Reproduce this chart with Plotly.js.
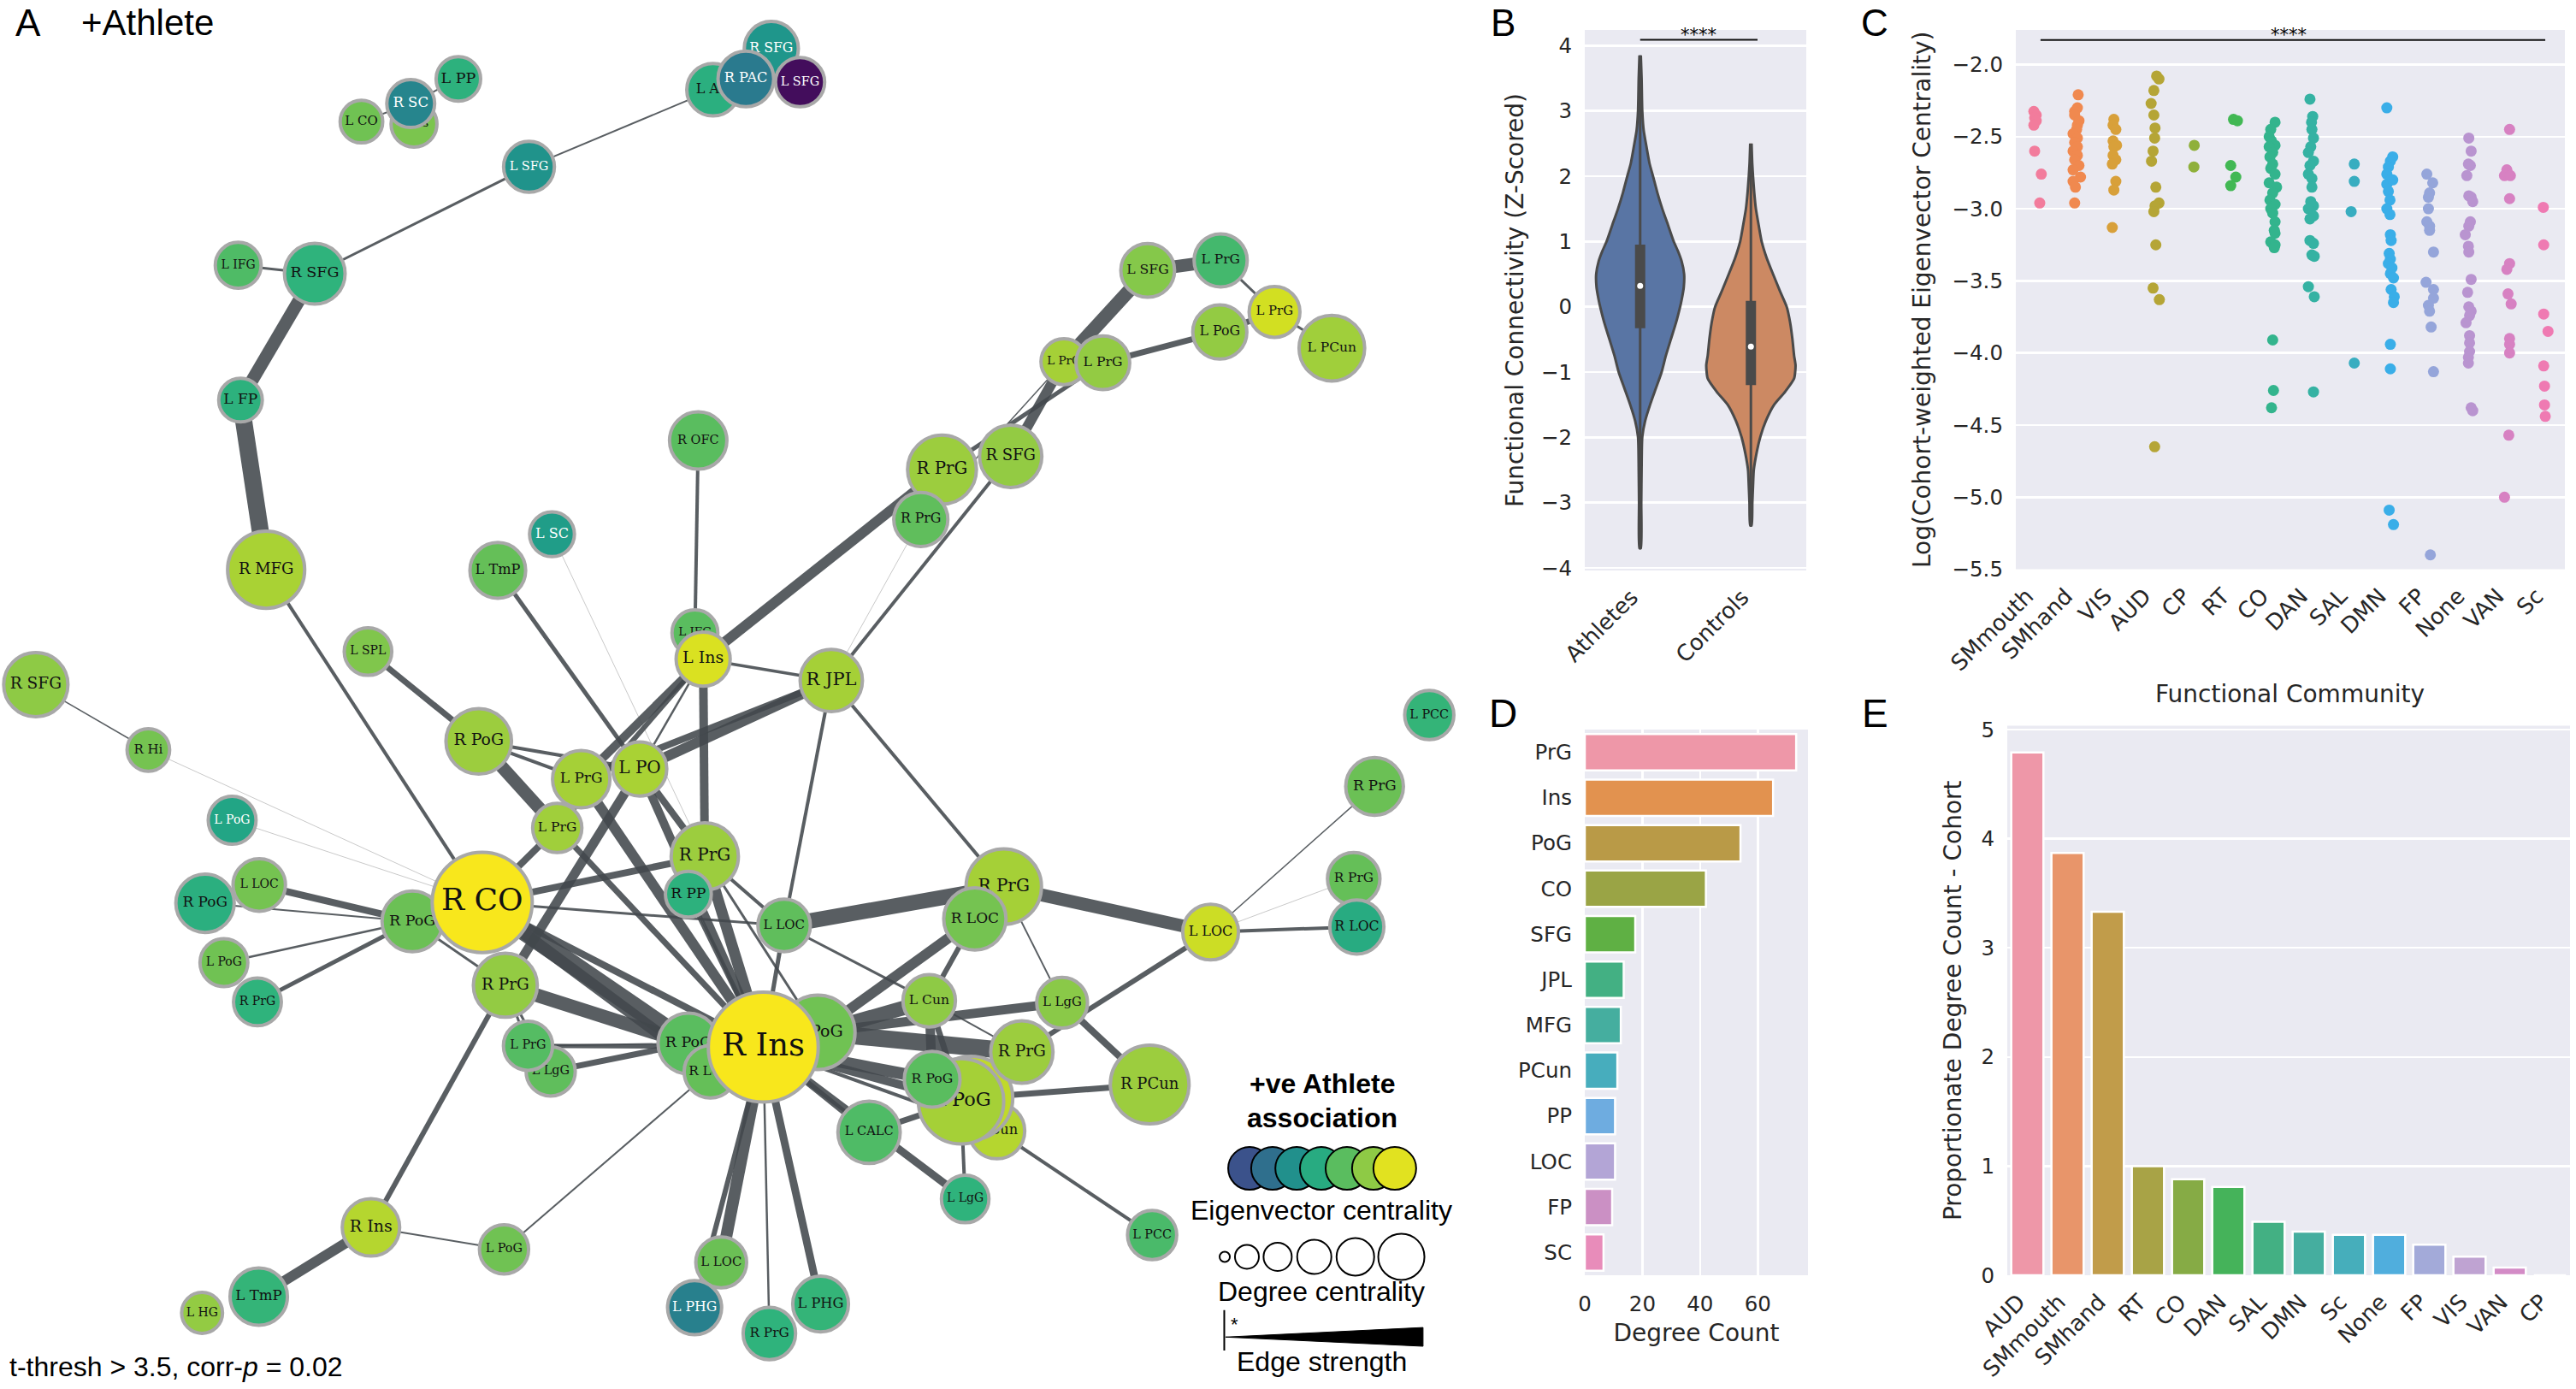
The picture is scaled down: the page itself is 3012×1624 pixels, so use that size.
<!DOCTYPE html>
<html><head><meta charset="utf-8">
<script src="https://cdn.plot.ly/plotly-3.0.1.min.js"></script>
<style>html,body{margin:0;padding:0;background:#fff}</style></head>
<body><div id="chart" style="width:3012px;height:1624px"></div>
<script>
// ---------- Panel A: network ----------
const nodeIds = ['LCO','LInsT','LPP','RSCt','LAG','RSFGt','LSFGd','RPAC','LSFGm','RSFGa','LIFG','LFP','RMFG','ROFC','LSC','LTmPa',
 'LSFGb','LPrGc','LPoGc','LPrGy','LPCun','LPrF','LPrGg','RPrGb','RSFGb','RPrGc','RSFGl','RHi','LPoGt','RPoGd','LLOCa','LPoGa','RPrGa',
 'RPoGm','RPrGm','RCO','LLgGa','LPrGa','LSPL','RPoGu','LPrGu','LPO','LPrGl','RInsS','LPoGb','LTmPb','LHG','RPrGr1','RPrGr2','RLOCr','LLOCr',
 'RPrGbig','RLOCm','RPrGn','RPP','LLOCm','LCun','LLgGb','PoGback','RPoGn','RLhid','RIns','CunB','PoGhid','RPrGq','PoGbig','RPoGs','LCALC','RPCun','LLgGc','LPCCa',
 'LLOCb','LPHGa','RPrGd','LPHGb','LPCCb','RJPL','LIFGh','LIns'];
const nodeLabels = ['L CO','L Ins','L PP','R SC','L AG','R SFG','L SFG','R PAC','L SFG','R SFG','L IFG','L FP','R MFG','R OFC','L SC','L TmP',
 'L SFG','L PrG','L PoG','L PrG','L PCun','L PrG','L PrG','R PrG','R SFG','R PrG','R SFG','R Hi','L PoG','R PoG','L LOC','L PoG','R PrG',
 'R PoG','R PrG','R CO','L LgG','L PrG','L SPL','R PoG','L PrG','L PO','L PrG','R Ins','L PoG','L TmP','L HG','R PrG','R PrG','R LOC','L LOC',
 'R PrG','R LOC','R PrG','R PP','L LOC','L Cun','L LgG','R PoG','R PoG','R LOC','R Ins','L Cun','','R PrG','R PoG','R PoG','L CALC','R PCun','L LgG','L PCC',
 'L LOC','L PHG','R PrG','L PHG','L PCC','R JPL','L IFG','L Ins'];
const nodeX = [220,252,279,250,434,469.5,487,454,322,191.6,145,146.4,162,425,336,303,
 698.6,743,742.5,775.8,810.7,647.6,671.3,573.4,615.2,560.5,21.8,90.3,141.3,124.8,157.8,136.3,156.7,
 251,307.6,293.5,335.2,321.4,224,291.4,353.8,389.4,339.2,225.8,306.8,157.5,123,836.7,824,825.9,736.9,
 611,593.4,429,419,477.3,565.6,646.5,497.8,419,432.4,464.6,606.8,591,622,585,567.4,529,699.8,587.5,701.3,
 439,422.8,468.3,499.5,870,506,423,428];
const nodeY = [74,75.5,48,63,54.6,29.5,50,48,101.5,166.5,161.4,243.4,346.6,268,325,347,
 164.5,158.4,202,189.8,211.8,220,220.7,285.7,277.6,316,416.5,456.2,499,549.5,538.4,585.6,609.5,
 560.5,599.4,549,651.8,636.2,396.4,451,474,467.8,503.7,746.7,760,788.8,798.7,478.4,534.6,563.9,567,
 539.4,559,521,544,563,608.8,610,628,634.8,652,637,688,668,640,670,656.6,688.8,659.8,729.4,751.3,
 768,795.5,811.2,793.3,435,414,385,401];
const nodeR = [14,15,14.6,15.6,17,17.5,16,18,16.5,19.5,15,14.3,24.5,18.5,14.7,18,
 17.4,17.2,17.5,16.5,21,15,17.4,22,20,17.5,20.6,14,15.6,18.8,17,15.6,15.6,
 19.5,20.5,31.5,16,16,15.5,21,18.5,17.5,16,18.5,16,18.5,13.5,18.6,17,17.5,18,
 24,20,21.5,15,17,17,16.5,23.7,19.5,17,34.5,18,26.5,20,27,18,20,25,15.5,16,
 16.5,17.5,17,18,16,20,15,17.5];
const nodeCentrality = [.76,.78,.63,.42,.62,.48,.03,.38,.47,.64,.7,.63,.88,.72,.52,.74,
 .8,.68,.83,.95,.86,.87,.83,.85,.83,.73,.82,.77,.57,.62,.77,.76,.64,
 .75,.83,1,.73,.71,.79,.85,.87,.88,.86,.9,.76,.65,.83,.75,.74,.6,.94,
 .87,.77,.85,.63,.73,.82,.81,.76,.72,.74,1,.9,.92,.85,.87,.72,.7,.85,.64,.69,
 .75,.4,.64,.65,.65,.87,.72,.96];
const nodeFontOverride = {RCO:36,RIns:37,LIns:19,LPO:20,RJPL:21,RPrGn:20,RPP:17,LPrGu:17,RPrGq:18.6,PoGbig:22.5,PoGback:19,RInsS:19,LLOCm:15,LCALC:14.6,LCun:15.6,LPrGl:15.5,RPoGs:15.7,LLgGc:14,
 LPP:17.5,LFP:17,RSCt:16.5,LSC:16,RHi:15,LCO:15,LIFG:14,LSFGm:14.5,LAG:16,LHG:14,ROFC:14.5,LPCun:15.5,RPCun:18,RLOCm:17,RMFG:18,LLOCa:14,LLOCr:16};
const nodeScale = [[0,'#440154'],[.2,'#3b528b'],[.38,'#2a7a8e'],[.48,'#1f968b'],[.57,'#22a585'],[.64,'#2fb37c'],[.7,'#4fbb66'],[.75,'#6bc055'],[.8,'#85c84a'],[.85,'#9ccd3e'],[.88,'#a9d234'],[.95,'#d2df22'],[1,'#f8e71c']];
const edgeFrom = ['LCO','RSCt','LAG','LSFGm','RSFGa','RSFGa','LFP','RMFG','LTmPa','LSC','ROFC','RPrGb','RSFGb','LPrF','LPrGg','LPrF','RSFGb','RPrGc',
 'LSFGb','LPrGc','LPoGc','LPrGy','LPoGc','RJPL','RJPL','RJPL','RJPL','RJPL','LIns','LIns','RPoGu','RPoGu','RPoGu','RPoGu','LPrGu','LPrGl',
 'RCO','RCO','RCO','RPrGm','RCO','RCO','RCO','RPoGm','RPrGm','RPrGm','RPrGm','RPrGm','RInsS','LPoGb','RInsS','RPoGm','RPoGm','RPoGm','RPoGm','RSFGl','RHi','LPoGt',
 'LPrGa','LLgGa','RPrGn','RPrGn','RPP','RPrGn','LLOCm','LLOCm','LLOCm','RPrGbig','RPrGbig','LLOCr','LLOCr','LLOCr','LLOCr','LLgGb','RLOCm','RLOCm','LCun','LLgGb','RPrGq','LCun','LCun','LCun',
 'RIns','RIns','RIns','RIns','RIns','RPCun','LCALC','PoGbig','CunB','RIns','RIns','RIns','RIns','RIns','LPO','LPO','LPrGl','LPO','LPrGa'];
const edgeTo = ['RSCt','LPP','LSFGm','RSFGa','LIFG','LFP','RMFG','RCO','LPO','RPrGn','LIFGh','LIns','LPrF','LSFGb','RPrGb','RPrGc','RJPL','RJPL',
 'LPrGc','LPrGy','LPrGy','LPCun','LPrGg','LIns','LPO','LPrGu','RPrGbig','LLOCm','RPrGn','LPrGu','LSPL','LPrGu','LPO','LPrGl','RIns','RIns',
 'LPrGl','RIns','RLhid','LPO','RPoGn','RPrGn','LLOCm','RPrGm','RPoGn','LPrGa','LLgGa','RInsS','LPoGb','RLhid','LTmPb','LLOCa','RPoGd','LPoGa','RPrGa','RHi','RCO','RCO',
 'RPoGn','RPoGn','LLOCm','RIns','RIns','PoGback','RPrGbig','RIns','LCun','LLOCr','LLgGb','RPrGr1','RPrGr2','RLOCr','RPrGq','RPCun','PoGback','LCun','PoGback','PoGback','PoGback','RPrGq','RPoGs','PoGbig',
 'RPoGs','PoGbig','LCALC','LLgGc','CunB','PoGhid','PoGbig','LLgGc','LPCCa','LLOCb','LPHGa','RPrGd','LPHGb','RPP','RIns','RPrGn','LIns','LIns','RIns'];
const edgeWidth = [2,2,2,3,3,15,20,4,5,.8,4,12,12,16,5,1.5,4,.8,
 15,3,7,3,7,3.5,12,8,4,4,10,10,7,4,4,15,12,7,
 8,8,14,11,22,8,3,3,16,3,3,6,2,2,12,8,2,2.5,5,1.5,.8,.8,
 2,7,4,13,1.5,3,18,5,3,15,2,1.5,.8,4,6,8,12,6,17,11,20,2,11,7,
 14,10,7,9,4,7,7,4,4,14,6,2.5,9,6,10,8,6,2.5,5];
const legendColorVals = [.2,.33,.46,.6,.72,.82,.97];
const legendColorX = [760.6,774.6,789.3,804.3,819.9,836,849];
const legendSizeX = [745.5,759,777.7,800,825,853];
const legendSizeD = [12,28,33,40,44,54];
const wedgeX = [746,866.2,866.2,746];
const wedgeY = [813.4,807.6,819,813.4];

// ---------- Panel B: violins ----------
const groups = ['Athletes','Controls'];
const athY = [3.85,3.5,3,2.7,2.5,2.2,2,1.75,1.5,1.25,1,.85,.7,.5,.3,.1,0,-.25,-.5,-.75,-1,-1.25,-1.5,-1.75,-2,-2.5,-3,-3.7];
const athD = [.006,.013,.019,.032,.052,.084,.116,.155,.2,.252,.303,.342,.374,.397,.394,.374,.361,.323,.277,.232,.194,.142,.09,.045,.019,.013,.01,.006];
const conY = [2.5,2.2,2,1.75,1.5,1.25,1,.75,.5,.25,0,-.25,-.5,-.75,-.9,-1.1,-1.3,-1.5,-1.75,-2,-2.25,-2.5,-2.75,-3,-3.35];
const conD = [.006,.012,.019,.03,.045,.07,.097,.142,.2,.26,.323,.355,.375,.39,.403,.39,.31,.21,.135,.084,.05,.026,.019,.013,.006];
const boxQ1 = [-.33,-1.2], boxQ3 = [.95,.09], boxMed = [.32,-.61], whiskHi = [3.85,2.2], whiskLo = [-3.7,-3.3];
const violinFill = ['#5975a4','#cc8963'];

// ---------- Panel C: strip plot ----------
const communities = ['SMmouth','SMhand','VIS','AUD','CP','RT','CO','DAN','SAL','DMN','FP','None','VAN','Sc'];
const stripColors = ['#f27c9c','#f0894f','#d8a03a','#b5a536','#8fb03b','#42b854','#33b48d','#35b2a3','#38adc0','#3aaee8','#95a5da','#b994d0','#d781c2','#ef7ab2'];
const cSMmouth=[-2.325,-2.35,-2.37,-2.39,-2.42,-2.60,-2.76,-2.96], jSMmouth=[-.04,.02,-.02,.02,-.04,-.02,.15,.11];
const cSMhand=[-2.21,-2.30,-2.325,-2.35,-2.39,-2.42,-2.45,-2.48,-2.51,-2.54,-2.57,-2.60,-2.63,-2.66,-2.70,-2.73,-2.78,-2.81,-2.85,-2.96], jSMhand=[.09,.07,0,0,.11,.07,.05,-.04,.07,0,.07,-.04,.07,0,.11,-.04,.15,-.04,.02,0];
const cVIS=[-2.38,-2.42,-2.45,-2.53,-2.56,-2.57,-2.63,-2.66,-2.69,-2.81,-2.87,-3.13], jVIS=[0,-.02,.05,-.02,.07,0,-.02,.05,-.04,.05,0,-.04];
const cAUD=[-2.08,-2.10,-2.18,-2.27,-2.35,-2.44,-2.51,-2.60,-2.67,-2.85,-2.96,-2.98,-3.02,-3.25,-3.55,-3.63,-4.65], jAUD=[.09,.15,.02,-.05,.02,.05,.04,0,-.04,.07,.15,.05,.02,.07,0,.16,.04];
const cCP=[-2.56,-2.71], jCP=[.05,.04];
const cRT=[-2.38,-2.39,-2.70,-2.78,-2.84], jRT=[.05,.15,-.02,.11,-.02];
const cCO=[-2.40,-2.45,-2.50,-2.53,-2.56,-2.57,-2.61,-2.64,-2.69,-2.72,-2.76,-2.82,-2.85,-2.89,-2.94,-2.97,-3.00,-3.03,-3.09,-3.15,-3.17,-3.23,-3.25,-3.27,-3.91,-4.26,-4.38], jCO=[.11,0,-.04,.02,.11,-.04,.05,-.02,.05,0,.11,-.04,.15,.05,-.02,.11,0,.05,.11,.09,.11,0,.11,.09,.05,.07,.02];
const cDAN=[-2.24,-2.36,-2.40,-2.45,-2.51,-2.57,-2.61,-2.67,-2.70,-2.76,-2.79,-2.85,-2.95,-2.98,-3.00,-3.05,-3.07,-3.22,-3.24,-3.32,-3.33,-3.54,-3.61,-4.27], jDAN=[0,.07,.04,.05,.09,.02,-.04,.09,0,-.04,.05,.05,.02,.09,-.04,.09,0,0,.09,.05,.11,-.04,.11,.09];
const cSAL=[-2.69,-2.81,-3.02,-4.07], jSAL=[.13,.13,.05,.13];
const cDMN=[-2.30,-2.64,-2.67,-2.71,-2.76,-2.80,-2.83,-2.80,-2.88,-2.94,-3.00,-3.04,-3.18,-3.22,-3.31,-3.35,-3.38,-3.41,-3.45,-3.48,-3.56,-3.61,-3.65,-3.94,-4.11,-5.09,-5.19], jDMN=[-.04,.11,.05,0,-.04,.05,-.04,.11,0,.04,-.04,.04,.05,.07,.02,.05,0,.09,.05,.13,.07,.15,.13,.05,.05,.02,.13];
const cFP=[-2.76,-2.82,-2.89,-2.92,-3.00,-3.09,-3.12,-3.15,-3.30,-3.51,-3.56,-3.62,-3.67,-3.71,-3.82,-4.13,-5.40], jFP=[-.02,.13,.05,.02,.02,-.02,.05,.05,.15,-.04,.15,.15,.02,.05,.09,.15,.07];
const cNone=[-2.51,-2.60,-2.69,-2.70,-2.77,-2.91,-2.92,-2.95,-3.09,-3.12,-3.18,-3.26,-3.30,-3.49,-3.58,-3.68,-3.71,-3.74,-3.79,-3.88,-3.93,-3.99,-4.03,-4.07,-4.38,-4.40], jNone=[.05,.11,.04,.09,0,.05,.11,.15,.09,.05,-.04,.04,.05,.11,.02,.05,.11,.07,-.02,.07,.07,.07,.04,.04,.11,.15];
const cVAN=[-2.45,-2.73,-2.76,-2.77,-2.77,-2.93,-3.38,-3.42,-3.59,-3.66,-3.90,-3.94,-4.00,-4.57,-5.00], jVAN=[.09,.02,.05,-.04,.11,.09,.09,.02,.05,.13,.09,.09,.09,.07,-.04];
const cSc=[-2.99,-3.25,-3.73,-3.85,-4.09,-4.23,-4.36,-4.44], jSc=[-.05,-.04,-.04,.07,-.04,-.02,-.02,0];
const stripVals=[cSMmouth,cSMhand,cVIS,cAUD,cCP,cRT,cCO,cDAN,cSAL,cDMN,cFP,cNone,cVAN,cSc];
const stripJit=[jSMmouth,jSMhand,jVIS,jAUD,jCP,jRT,jCO,jDAN,jSAL,jDMN,jFP,jNone,jVAN,jSc];

// ---------- Panel D ----------
const regions = ['PrG','Ins','PoG','CO','SFG','JPL','MFG','PCun','PP','LOC','FP','SC'];
const degreeCount = [73.3,65.3,54,42,17.5,13.5,12.5,11.3,10.5,10.5,9.5,6.5];
const regionColors = ['#ee97a8','#e2924f','#b99a47','#9aa445','#5fb044','#43b083','#45ae9f','#47adbd','#6eace0','#b3a5d6','#cb90c4','#e88cba'];

// ---------- Panel E ----------
const commE = ['AUD','SMmouth','SMhand','RT','CO','DAN','SAL','DMN','Sc','None','FP','VIS','VAN','CP'];
const propDegree = [4.79,3.87,3.33,1.0,.88,.81,.49,.40,.37,.37,.28,.17,.07,0];
const commEColors = ['#ee97a8','#e8956a','#c19c4a','#a8a346','#86ab45','#45b35a','#43b083','#45ae9f','#46aebb','#50aedd','#a3aad9','#bfa3d2','#d38bc6','#e88cba'];

// ---------- Build ----------
const W=3012,H=1624, SERIF='DejaVu Serif', SANS='DejaVu Sans', ARIAL='Liberation Sans';
const dx=(a,b)=>[a/W,b/W], dy=(a,b)=>[1-b/H,1-a/H];
const traces=[];
const idx=Object.fromEntries(nodeIds.map((d,i)=>[d,i]));
edgeFrom.forEach((f,i)=>{
  const a=idx[f],b=idx[edgeTo[i]],w=edgeWidth[i];
  traces.push({type:'scatter',mode:'lines',x:[nodeX[a],nodeX[b]],y:[nodeY[a],nodeY[b]],xaxis:'x',yaxis:'y',
    line:{width:w,color:w<1?'rgba(130,130,130,0.55)':'rgba(66,72,76,0.88)'},hoverinfo:'skip',showlegend:false});
});
const K=1.921, NB=4;
nodeIds.forEach((id,i)=>{
  const r=nodeR[i], c=nodeCentrality[i];
  const fs=nodeFontOverride[id]||Math.max(13.5,Math.min(r*0.9,20));
  traces.push({type:'scatter',mode:'markers+text',x:[nodeX[i]],y:[nodeY[i]],xaxis:'x',yaxis:'y',
    text:[nodeLabels[i]],textposition:'middle center',textfont:{family:SERIF,size:fs,color:c<.58?'#ffffff':'#111111'},
    marker:{size:2*r*K-NB,color:[c],colorscale:nodeScale,cmin:0,cmax:1,line:{color:'#a8a8a8',width:NB}},
    hoverinfo:'skip',showlegend:false});
});
// legend of panel A
legendColorX.forEach((x,i)=>traces.push({type:'scatter',mode:'markers',x:[x],y:[710.8],xaxis:'x',yaxis:'y',
  marker:{size:50,color:[legendColorVals[i]],colorscale:nodeScale,cmin:0,cmax:1,line:{color:'#000',width:2}},hoverinfo:'skip',showlegend:false}));
legendSizeX.forEach((x,i)=>traces.push({type:'scatter',mode:'markers',x:[x],y:[764.6],xaxis:'x',yaxis:'y',
  marker:{size:legendSizeD[i],color:'#fff',line:{color:'#000',width:2}},hoverinfo:'skip',showlegend:false}));
traces.push({type:'scatter',mode:'lines',x:wedgeX,y:wedgeY,xaxis:'x',yaxis:'y',fill:'toself',fillcolor:'#000',line:{color:'#000',width:1},hoverinfo:'skip',showlegend:false});
traces.push({type:'scatter',mode:'lines',x:[745.2,745.2],y:[797,821.6],xaxis:'x',yaxis:'y',line:{color:'#000',width:2},hoverinfo:'skip',showlegend:false});

// violins
[[athY,athD],[conY,conD]].forEach(([ys,ds],g)=>{
  const xs=ys.map((_,i)=>g-ds[i]).concat(ys.map((_,i)=>g+ds[i]).reverse());
  const yy=ys.concat(ys.slice().reverse());
  traces.push({type:'scatter',mode:'lines',x:xs,y:yy,xaxis:'x2',yaxis:'y2',fill:'toself',fillcolor:violinFill[g],
    line:{color:'#4a4a4a',width:3,shape:'spline',smoothing:.6},hoverinfo:'skip',showlegend:false});
  traces.push({type:'scatter',mode:'lines',x:[g,g],y:[whiskLo[g],whiskHi[g]],xaxis:'x2',yaxis:'y2',line:{color:'#4a4a4a',width:3},hoverinfo:'skip',showlegend:false});
  traces.push({type:'scatter',mode:'lines',x:[g,g],y:[boxQ1[g],boxQ3[g]],xaxis:'x2',yaxis:'y2',line:{color:'#4a4a4a',width:12},hoverinfo:'skip',showlegend:false});
  traces.push({type:'scatter',mode:'markers',x:[g],y:[boxMed[g]],xaxis:'x2',yaxis:'y2',marker:{color:'#fff',size:7},hoverinfo:'skip',showlegend:false});
});
// strip plot
stripVals.forEach((v,c)=>traces.push({type:'scatter',mode:'markers',x:v.map((_,i)=>c+stripJit[c][i]),y:v,xaxis:'x3',yaxis:'y3',
  marker:{color:stripColors[c],size:13},hoverinfo:'skip',showlegend:false}));
// bars
traces.push({type:'bar',orientation:'h',x:degreeCount,y:regions.map((_,i)=>i),width:.8,xaxis:'x4',yaxis:'y4',
  marker:{color:regionColors,line:{color:'#fff',width:2.5}},hoverinfo:'skip',showlegend:false});
traces.push({type:'bar',x:commE.map((_,i)=>i),y:propDegree,width:.8,xaxis:'x5',yaxis:'y5',
  marker:{color:commEColors,line:{color:'#fff',width:2.5}},hoverinfo:'skip',showlegend:false});

const tickF={family:SANS,size:24.5,color:'#262626'}, xTickF={family:SANS,size:26,color:'#262626'}, titleF={family:SANS,size:28,color:'#262626'};
const base={showline:false,zeroline:false,ticks:'',gridcolor:'#ffffff',gridwidth:2.5,tickfont:tickF,fixedrange:true,automargin:false};
const hide={visible:false,fixedrange:true};
const ann=(t,xp,yp,size,fam,extra)=>Object.assign({text:t,xref:'paper',yref:'paper',x:xp/W,y:1-yp/H,xanchor:'center',yanchor:'middle',showarrow:false,
  font:{family:fam||ARIAL,size:size,color:'#000'}},extra||{});
const bgRect=(ax,ay)=>({type:'rect',xref:ax+' domain',yref:ay+' domain',x0:0,x1:1,y0:0,y1:1,fillcolor:'#eaeaf2',line:{width:0},layer:'below'});

const layout={width:W,height:H,autosize:false,margin:{l:0,r:0,t:0,b:0,pad:0},paper_bgcolor:'#fff',plot_bgcolor:'rgba(0,0,0,0)',showlegend:false,hovermode:false,
 xaxis:Object.assign({domain:[0,1],range:[0,1568]},hide),
 yaxis:Object.assign({domain:[0,1],range:[845,0]},hide),
 xaxis2:Object.assign({},base,{domain:dx(1853,2112),range:[-.5,1.5],anchor:'y2',tickmode:'array',tickvals:[0,1],ticktext:groups,tickangle:-45,showgrid:false,ticklabelstandoff:10,ticklabelshift:-10,tickfont:xTickF}),
 yaxis2:Object.assign({},base,{domain:dy(35,667),range:[-4.04,4.24],anchor:'x2',tickmode:'array',tickvals:[-4,-3,-2,-1,0,1,2,3,4],ticklabelstandoff:14,
   title:{text:'Functional Connectivity (Z-Scored)',font:titleF,standoff:12}}),
 xaxis3:Object.assign({},base,{domain:dx(2357,2999),range:[-.5,13.5],anchor:'y3',tickmode:'array',tickvals:communities.map((_,i)=>i),ticktext:communities,tickangle:-45,showgrid:false,ticklabelstandoff:10,ticklabelshift:-10,tickfont:xTickF}),
 yaxis3:Object.assign({},base,{domain:dy(35,665.6),range:[-5.5,-1.76],anchor:'x3',tickmode:'array',tickvals:[-5.5,-5,-4.5,-4,-3.5,-3,-2.5,-2],ticktext:['−5.5','−5.0','−4.5','−4.0','−3.5','−3.0','−2.5','−2.0'],ticklabelstandoff:14,
   title:{text:'Log(Cohort-weighted Eigenvector Centrality)',font:titleF,standoff:16}}),
 xaxis4:Object.assign({},base,{domain:dx(1853,2114),range:[0,77.4],anchor:'y4',tickmode:'array',tickvals:[0,20,40,60],ticklabelstandoff:16,
   title:{text:'Degree Count',font:titleF,standoff:10}}),
 yaxis4:Object.assign({},base,{domain:dy(853,1491),range:[11.5,-.5],anchor:'x4',tickmode:'array',tickvals:regions.map((_,i)=>i),ticktext:regions,showgrid:false,ticklabelstandoff:14}),
 xaxis5:Object.assign({},base,{domain:dx(2347,3005),range:[-.5,13.5],anchor:'y5',tickmode:'array',tickvals:commE.map((_,i)=>i),ticktext:commE,tickangle:-45,showgrid:false,ticklabelstandoff:10,ticklabelshift:-10,tickfont:xTickF}),
 yaxis5:Object.assign({},base,{domain:dy(848.5,1491),range:[0,5.035],anchor:'x5',tickmode:'array',tickvals:[0,1,2,3,4,5],ticklabelstandoff:14,
   title:{text:'Proportionate Degree Count - Cohort',font:titleF,standoff:14}}),
 shapes:[bgRect('x2','y2'),bgRect('x3','y3'),bgRect('x4','y4'),bgRect('x5','y5'),
  {type:'line',xref:'x2',yref:'y2',x0:0,x1:1.06,y0:4.09,y1:4.09,line:{color:'#111',width:2}},
  {type:'line',xref:'x3',yref:'y3',x0:.13,x1:13,y0:-1.83,y1:-1.83,line:{color:'#111',width:2}}],
 annotations:[
  ann('A',33,26,44),ann('+Athlete',172,26,42),
  ann('B',1757,26,44),ann('C',2192,26,44),ann('D',1757,834,46),ann('E',2192,834,46),
  ann('****',1986,41,21,SANS),ann('****',2676,41,21,SANS),
  ann('t-thresh &gt; 3.5, corr-<i>p</i> = 0.02',206,1598,32),
  ann('<b>+ve Athlete</b>',1546,1267,32),ann('<b>association</b>',1546,1307,32),
  ann('Eigenvector centrality',1545,1415,32),ann('Degree centrality',1545,1510,32),ann('Edge strength',1545,1592,32),
  ann('*',1443,1548,22),
  ann('Functional Community',2677,811,28,SANS,{font:{family:SANS,size:28,color:'#262626'}})
 ]};
Plotly.newPlot('chart',traces,layout,{displayModeBar:false,staticPlot:true});
</script></body></html>
